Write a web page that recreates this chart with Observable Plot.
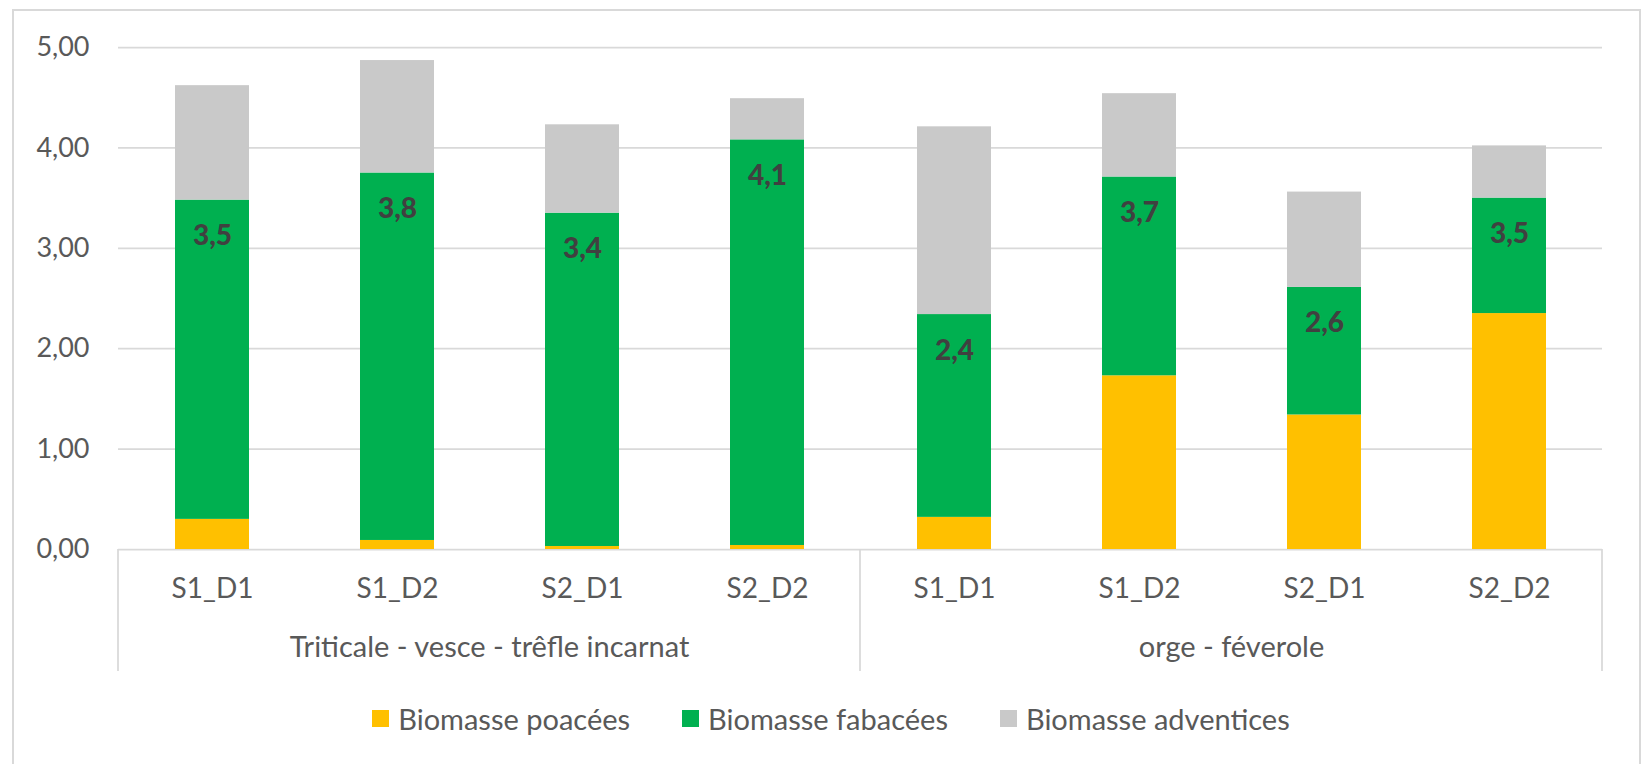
<!DOCTYPE html>
<html>
<head>
<meta charset="utf-8">
<script src="https://cdn.jsdelivr.net/npm/d3@7"></script>
<script src="https://cdn.jsdelivr.net/npm/@observablehq/plot@0.6"></script>
<style>
  html, body { margin: 0; padding: 0; background: #fff; }
  body { width: 1642px; height: 764px; overflow: hidden; position: relative; font-family: Lato, "Open Sans", sans-serif; }
  #border { position: absolute; left: 12px; top: 9px; width: 1629px; height: 800px; border: 2px solid #d9d9d9; box-sizing: border-box; }
  #chart { position: absolute; left: 0; top: 0; }
  #legend { position: absolute; top: 701px; left: 0; width: 1662px; display: flex; justify-content: center; }
  #legend .lg-swatches { margin: 0 !important; min-height: 0 !important; font-family: Lato, sans-serif !important; font-size: 29px !important; color: #595959 !important; display: flex; }
  #legend .lg-swatch { margin-right: 52px !important; display: inline-flex; align-items: center; }
  #legend .lg-swatch:last-child { margin-right: 0 !important; }
  #legend .lg-swatch > svg { margin-right: 9px !important; }
</style>
</head>
<body>
<div id="border"></div>
<div id="chart"></div>
<div id="legend"></div>
<script>
const groups = ["Triticale - vesce - trêfle incarnat", "orge - féverole"];
const cats = ["S1_D1", "S1_D2", "S2_D1", "S2_D2"];
const series = ["Biomasse poacées", "Biomasse fabacées", "Biomasse adventices"];
const colors = ["#FFC000", "#00B050", "#C9C9C9"];
const poacees    = [0.30, 0.09, 0.03, 0.04, 0.32, 1.73, 1.34, 2.35];
const fabacees   = [3.18, 3.66, 3.32, 4.04, 2.02, 1.98, 1.27, 1.15];
const adventices = [1.14, 1.12, 0.88, 0.41, 1.87, 0.83, 0.95, 0.52];
const barLabels  = [3.5, 3.8, 3.4, 4.1, 2.4, 3.7, 2.6, 3.5];
const yTicks = [0, 1, 2, 3, 4, 5];

const seriesValues = [poacees, fabacees, adventices];
const rows = [];
const labelRows = [];
groups.forEach((g, gi) => {
  cats.forEach((c, ci) => {
    const i = gi * cats.length + ci;
    series.forEach((s, si) => rows.push({group: g, cat: c, series: s, value: seriesValues[si][i]}));
    labelRows.push({group: g, cat: c, top: poacees[i] + fabacees[i], label: barLabels[i]});
  });
});

const fmt = d => d.toFixed(2).replace(".", ",");
const fmt1 = d => d.toFixed(1).replace(".", ",");

const chart = Plot.plot({
  width: 1642,
  height: 764,
  marginLeft: 118,
  marginRight: 40,
  marginTop: 47,
  marginBottom: 215,
  style: {fontFamily: "Lato, 'Open Sans', sans-serif", background: "transparent", color: "#595959"},
  fx: {domain: groups, padding: 0, label: null},
  x: {domain: cats, paddingInner: 0.6, paddingOuter: 0.3, label: null},
  y: {domain: [0, 5], label: null},
  color: {domain: series, range: colors},
  marks: [
    Plot.gridY(yTicks, {stroke: "#d9d9d9", strokeOpacity: 1, strokeWidth: 1.75}),
    Plot.barY(rows, {fx: "group", x: "cat", y: "value", fill: "series"}),
    Plot.text(labelRows, {fx: "group", x: "cat", y: "top", text: d => fmt1(d.label), dy: 36, fill: "#404040", fontWeight: 900, fontSize: 28, lineAnchor: "middle"}),
    Plot.axisY(yTicks, {tickSize: 0, tickPadding: 29, tickFormat: fmt, fontSize: 27, fill: "#595959", label: null}),
    Plot.axisX({tickSize: 0, tickPadding: 29, fontSize: 28, fill: "#595959", label: null}),
    Plot.axisFx({anchor: "bottom", tickSize: 0, tickPadding: 87, fontSize: 29, fill: "#595959", label: null})
  ]
});
document.getElementById("chart").appendChild(chart);

// group separators under the category axis, positioned with the facet and y scales
const fxs = chart.scale("fx");
const ys = chart.scale("y");
const y0 = ys.apply(0);
const edges = groups.map(g => fxs.apply(g));
edges.push(fxs.apply(groups[groups.length - 1]) + fxs.bandwidth);
d3.select(chart).append("g")
  .selectAll("line").data(edges).join("line")
  .attr("x1", d => d).attr("x2", d => d)
  .attr("y1", y0).attr("y2", y0 + 122)
  .attr("stroke", "#d9d9d9").attr("stroke-width", 1.75);

const legend = Plot.legend({
  color: {domain: series, range: colors},
  className: "lg",
  swatchSize: 17, swatchWidth: 17, swatchHeight: 17,
  style: {fontFamily: "Lato, sans-serif", fontSize: "29px", color: "#595959"}
});
document.getElementById("legend").appendChild(legend);
</script>
</body>
</html>
